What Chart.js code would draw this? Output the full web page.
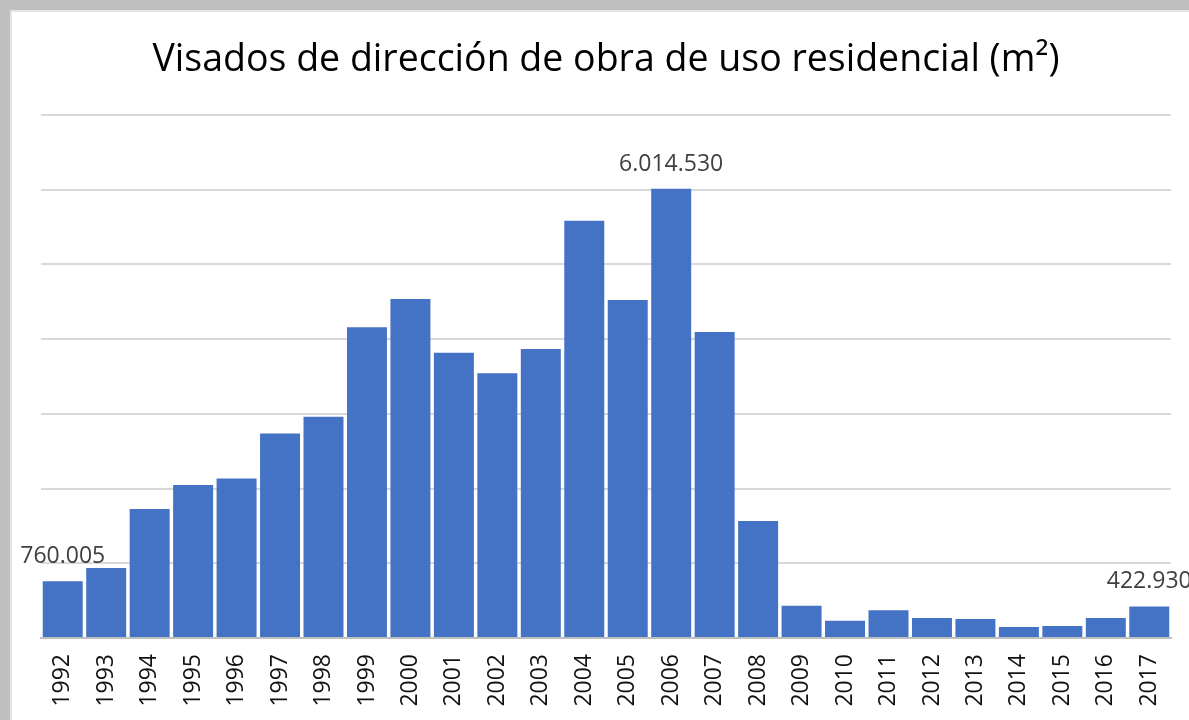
<!DOCTYPE html>
<html>
<head>
<meta charset="utf-8">
<script src="https://cdn.jsdelivr.net/npm/chart.js@4"></script>
<style>
  html, body { margin: 0; padding: 0; background: #bfbfbf; overflow: hidden; }
  #frame {
    position: absolute; left: 10px; top: 10px;
    width: 1177px; height: 708px;
    border-left: 2px solid #e3e3e3; border-top: 2px solid #e3e3e3;
    background: #fff;
  }
</style>
</head>
<body>
<div id="frame"><canvas id="chart"></canvas></div>
<script>
const TITLE = 'Visados de dirección de obra de uso residencial (m²)';
const YEARS = ['1992', '1993', '1994', '1995', '1996', '1997', '1998', '1999', '2000',
  '2001', '2002', '2003', '2004', '2005', '2006', '2007', '2008', '2009', '2010',
  '2011', '2012', '2013', '2014', '2015', '2016', '2017'];
const SQ_METERS = [760005, 937000, 1727000, 2048000, 2135000, 2737000, 2962000, 4160000, 4538000,
  3818000, 3543000, 3869000, 5585000, 4524000, 6014530, 4096000, 1566000, 432000, 232000,
  370000, 268000, 254000, 148000, 161000, 268000, 422930];
const LABELED = [0, 14, 25];   // bars that carry a value label
const Y_MAX = 7000000;
const Y_STEP = 1000000;

const fmt = v => String(v).replace(/\B(?=(\d{3})+(?!\d))/g, '.');

const titlePlugin = {
  id: 'topTitle',
  afterDraw(chart) {
    const { ctx } = chart;
    ctx.save();
    ctx.font = '37.5px "Open Sans", sans-serif';
    ctx.fillStyle = '#000';
    ctx.textAlign = 'center';
    ctx.textBaseline = 'alphabetic';
    ctx.fillText(TITLE, 594, 59);
    ctx.restore();
  }
};

const valueLabels = {
  id: 'valueLabels',
  afterDatasetsDraw(chart) {
    const { ctx } = chart;
    const meta = chart.getDatasetMeta(0);
    ctx.save();
    ctx.font = '23px "Open Sans", sans-serif';
    ctx.fillStyle = '#404040';
    ctx.textAlign = 'center';
    ctx.textBaseline = 'alphabetic';
    LABELED.forEach(i => {
      const bar = meta.data[i];
      ctx.fillText(fmt(SQ_METERS[i]), bar.x, bar.y - 18);
    });
    ctx.restore();
  }
};

new Chart(document.getElementById('chart').getContext('2d'), {
  type: 'bar',
  data: {
    labels: YEARS,
    datasets: [{
      data: SQ_METERS,
      backgroundColor: '#4472c4',
      borderWidth: 0,
      barPercentage: 0.92,
      categoryPercentage: 1
    }]
  },
  options: {
    responsive: true,
    maintainAspectRatio: false,
    animation: false,
    layout: { padding: { top: 103, left: 29, right: 18, bottom: 0 } },
    scales: {
      x: {
        grid: { display: false, drawTicks: false },
        border: { display: true, color: '#bfbfbf', width: 2 },
        ticks: {
          color: '#111',
          font: { family: 'Open Sans', size: 23 },
          minRotation: 90, maxRotation: 90,
          autoSkip: false,
          padding: 16
        },
        afterFit: s => { s.height = 82; s.paddingLeft = 0; s.paddingRight = 0; }
      },
      y: {
        min: 0, max: Y_MAX,
        ticks: { display: false, stepSize: Y_STEP },
        grid: { color: '#d9d9d9', lineWidth: 2, drawTicks: false },
        border: { display: false },
        afterFit: s => { s.width = 0; }
      }
    },
    plugins: {
      legend: { display: false },
      tooltip: { enabled: false }
    }
  },
  plugins: [titlePlugin, valueLabels]
});
</script>
</body>
</html>
